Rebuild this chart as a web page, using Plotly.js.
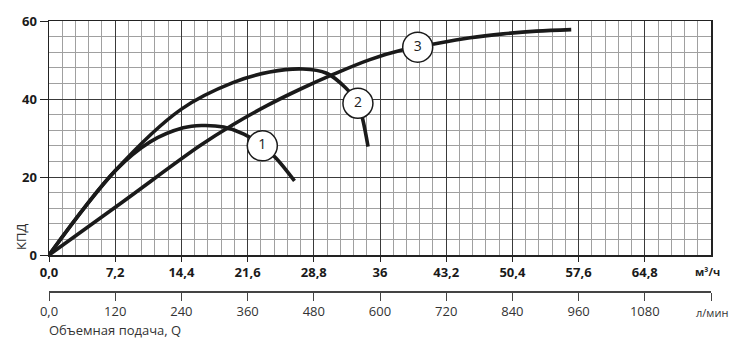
<!DOCTYPE html>
<html>
<head>
<meta charset="utf-8">
<script src="https://cdn.plot.ly/plotly-3.0.1.min.js"></script>
<style>html,body{margin:0;padding:0;background:#fff;}#chart{width:731px;height:338px;}</style>
</head>
<body>
<div id="chart"></div>
<script>
// Flow (m³/h) and efficiency (КПД) for each curve
const curve1Q = [0, 7.2, 11.0, 14.6, 16.6, 19.0, 21.2, 23.2, 24.7, 26.7];
const curve1E = [0, 21.6, 29.0, 32.6, 33.2, 32.8, 31.0, 28.0, 24.8, 19.0];

const curve2Q = [0, 7.2, 14.4, 20.0, 24.0, 27.6, 30.2, 32.2, 33.6, 34.1, 34.7];
const curve2E = [0, 21.6, 37.4, 44.2, 46.9, 47.7, 46.6, 43.0, 38.9, 35.0, 27.8];

const curve3Q = [0, 8.0, 16.4, 20.0, 23.7, 27.3, 30.9, 34.9, 38.5, 41.8, 45.8, 49.4, 53.0, 56.8];
const curve3E = [0, 13.6, 28.0, 33.4, 38.3, 42.5, 46.3, 50.1, 52.6, 54.1, 55.7, 56.7, 57.4, 57.8];

// Curve number labels
const labelNames = ["1", "2", "3"];
const labelQ = [23.2, 33.6, 40.1];
const labelE = [28.0, 38.9, 53.3];

// Tick labels
const m3hTicks = [0, 7.2, 14.4, 21.6, 28.8, 36, 43.2, 50.4, 57.6, 64.8];
const m3hText = ["0,0", "7,2", "14,4", "21,6", "28,8", "36", "43,2", "50,4", "57,6", "64,8"];
const lpmTicks = [0, 120, 240, 360, 480, 600, 720, 840, 960, 1080, 1200];
const lpmText = ["0,0", "120", "240", "360", "480", "600", "720", "840", "960", "1080", ""];
const effTicks = [0, 20, 40, 60];
const effText = ["0", "20", "40", "60"];

const lineStyle = {color: '#1a1a1a', width: 3.6, shape: 'spline', smoothing: 1.0};
const traces = [
  {x: curve1Q, y: curve1E, mode: 'lines', line: lineStyle, hoverinfo: 'skip'},
  {x: curve2Q, y: curve2E, mode: 'lines', line: lineStyle, hoverinfo: 'skip'},
  {x: curve3Q, y: curve3E, mode: 'lines', line: lineStyle, hoverinfo: 'skip'},
  {x: labelQ, y: labelE, mode: 'markers+text', text: labelNames, textposition: 'middle center',
   textfont: {family: 'Open Sans, sans-serif', size: 14, color: '#222'},
   marker: {symbol: 'circle', size: 30, color: '#ffffff', line: {color: '#1a1a1a', width: 1.5}},
   hoverinfo: 'skip', cliponaxis: false},
  {x: lpmTicks, y: lpmTicks.map(() => null), xaxis: 'x2', yaxis: 'y', mode: 'lines', hoverinfo: 'skip'}
];

const layout = {
  width: 731, height: 338,
  margin: {l: 49, r: 20, t: 21, b: 47},
  paper_bgcolor: '#ffffff', plot_bgcolor: '#ffffff',
  showlegend: false,
  font: {family: 'Open Sans, sans-serif', color: '#222'},
  xaxis: {
    range: [0, 72], anchor: 'y',
    tickmode: 'array', tickvals: m3hTicks, ticktext: m3hText,
    tickfont: {family: 'Open Sans, sans-serif', size: 13, color: '#1a1a1a', weight: 'bold'},
    showgrid: true, gridcolor: '#3a3a3a', gridwidth: 1,
    minor: {dtick: 1.44, tick0: 0, showgrid: true, gridcolor: '#a0a0a0', gridwidth: 1, ticks: ''},
    showline: true, linecolor: '#222', linewidth: 1.5, mirror: true,
    ticks: 'outside', ticklen: 5, tickcolor: '#222', zeroline: false
  },
  xaxis2: {
    range: [0, 1200], overlaying: 'x', anchor: 'free', position: 0, side: 'bottom',
    tickmode: 'array', tickvals: lpmTicks, ticktext: lpmText,
    tickfont: {family: 'Open Sans, sans-serif', size: 13, color: '#333'},
    showgrid: false, showline: true, linecolor: '#444', linewidth: 1.5,
    ticks: 'outside', ticklen: 8, tickcolor: '#444', zeroline: false
  },
  yaxis: {
    range: [0, 60], domain: [0.1333, 1],
    tickmode: 'array', tickvals: effTicks, ticktext: effText,
    tickfont: {family: 'Open Sans, sans-serif', size: 13, color: '#1a1a1a', weight: 'bold'},
    showgrid: true, gridcolor: '#3a3a3a', gridwidth: 1,
    minor: {dtick: 4, tick0: 0, showgrid: true, gridcolor: '#a0a0a0', gridwidth: 1, ticks: ''},
    showline: true, linecolor: '#222', linewidth: 1.5, mirror: true,
    ticks: 'outside', ticklen: 8, tickcolor: '#222', zeroline: false
  },
  annotations: [
    {text: 'м³/ч', xref: 'paper', yref: 'paper', x: 1.0166, y: 0.1333, yshift: -16, xanchor: 'right', yanchor: 'middle',
     showarrow: false, font: {family: 'Open Sans, sans-serif', size: 11, color: '#222', weight: 'bold'}},
    {text: 'л/мин', xref: 'paper', yref: 'paper', x: 1.0285, y: 0, yshift: -21, xanchor: 'right', yanchor: 'middle',
     showarrow: false, font: {family: 'Open Sans, sans-serif', size: 11, color: '#333'}},
    {text: 'Объемная подача, Q', xref: 'paper', yref: 'paper', x: -0.003, y: 0, yshift: -39, xanchor: 'left', yanchor: 'middle',
     showarrow: false, font: {family: 'Open Sans, sans-serif', size: 13, color: '#333'}},
    {text: 'КПД', xref: 'paper', yref: 'paper', x: 0, xshift: -28, y: 0.2, xanchor: 'center', yanchor: 'middle',
     textangle: -90, showarrow: false, font: {family: 'Open Sans, sans-serif', size: 13, color: '#333'}}
  ]
};

Plotly.newPlot('chart', traces, layout, {displayModeBar: false, staticPlot: true});
</script>
</body>
</html>
